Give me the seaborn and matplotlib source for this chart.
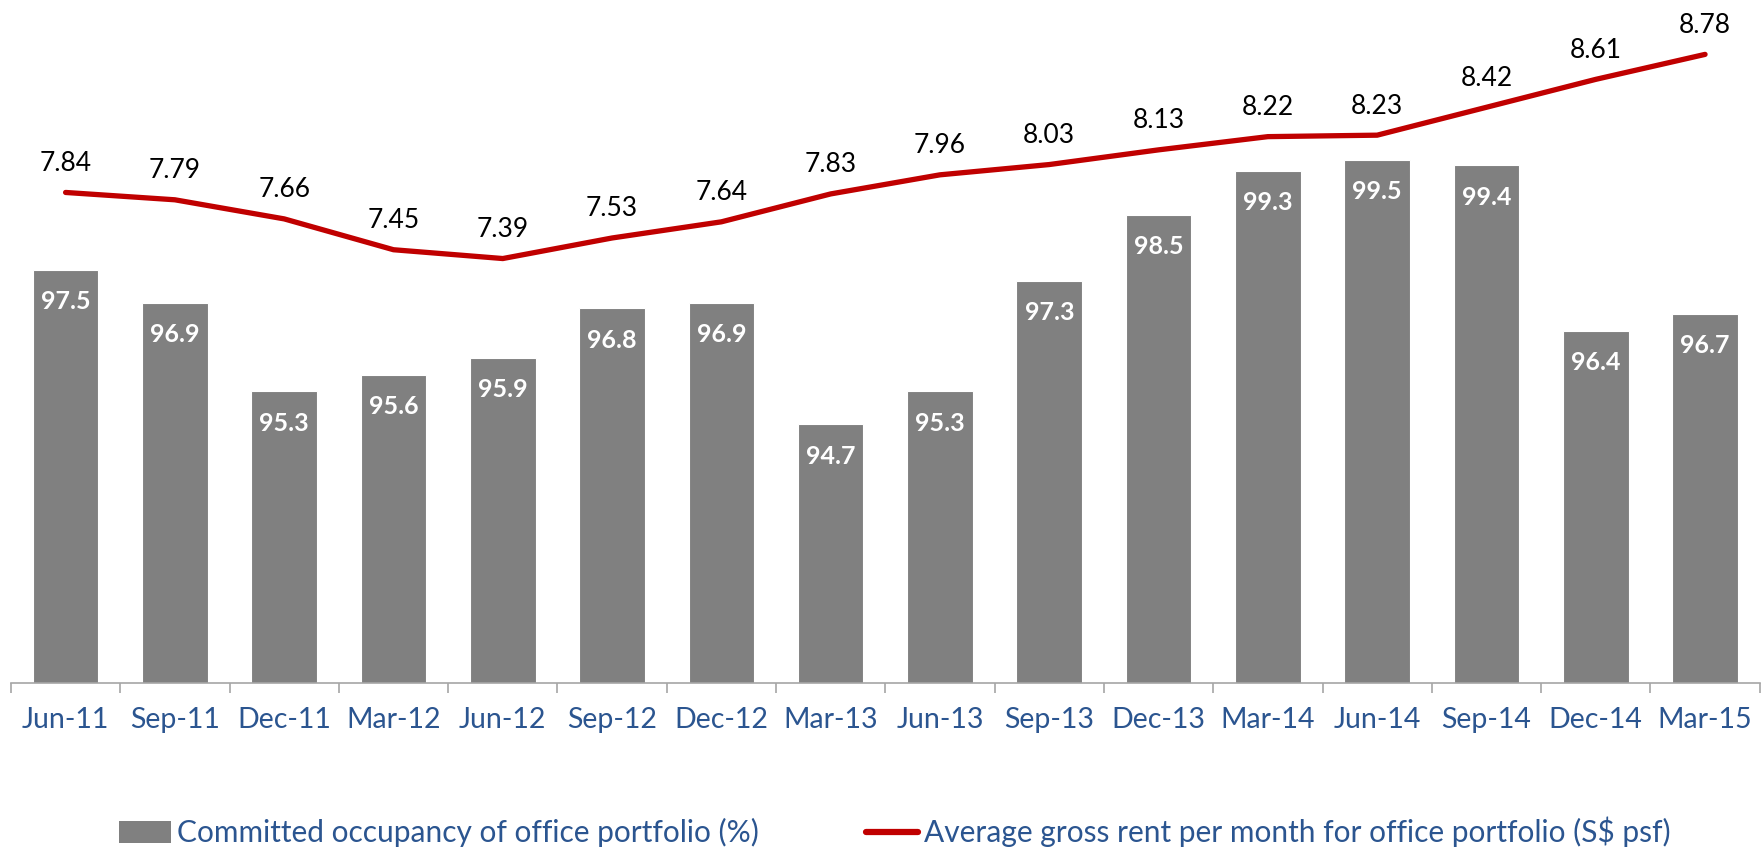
import numpy as np
import pandas as pd
import seaborn as sns
from matplotlib import pyplot as plt
from matplotlib.lines import Line2D
from matplotlib.patches import Patch

quarters = ['Jun-11', 'Sep-11', 'Dec-11', 'Mar-12', 'Jun-12', 'Sep-12', 'Dec-12', 'Mar-13',
            'Jun-13', 'Sep-13', 'Dec-13', 'Mar-14', 'Jun-14', 'Sep-14', 'Dec-14', 'Mar-15']
occupancy = [97.5, 96.9, 95.3, 95.6, 95.9, 96.8, 96.9, 94.7,
             95.3, 97.3, 98.5, 99.3, 99.5, 99.4, 96.4, 96.7]
rent = [7.84, 7.79, 7.66, 7.45, 7.39, 7.53, 7.64, 7.83,
        7.96, 8.03, 8.13, 8.22, 8.23, 8.42, 8.61, 8.78]

occ_label = 'Committed occupancy of office portfolio (%)'
rent_label = 'Average gross rent per month for office portfolio (S$ psf)'

BAR_GREY = '#808080'
LINE_RED = '#C00000'
TEXT_BLUE = '#2B5590'

sns.set_style('white')
plt.rcParams['font.family'] = ['Lato', 'DejaVu Sans']

df = pd.DataFrame({'quarter': quarters, 'occupancy': occupancy, 'rent': rent})
df['pos'] = np.arange(len(df))

fig = plt.figure(figsize=(17.65, 8.49), dpi=100)
ax = fig.add_axes([0.0062, 0.1955, 0.9908, 0.7785])

sns.barplot(data=df, x='quarter', y='occupancy', color=BAR_GREY, saturation=1,
            width=0.6, ax=ax, edgecolor='white', linewidth=0.8)
ax.set_ylim(90, 102)
ax.set_xlim(-0.5, len(df) - 0.5)

for i, v in enumerate(df['occupancy']):
    ax.annotate(f'{v:.1f}', (i, v), xytext=(0, -23), textcoords='offset points',
                ha='center', va='center', color='white', fontsize=18, fontweight='bold')

ax2 = ax.twinx()
sns.lineplot(data=df, x='pos', y='rent', color=LINE_RED, linewidth=3.8, ax=ax2,
             solid_capstyle='round')
ax2.set_ylim(4.5, 9.0)
ax2.set_xlim(-0.5, len(df) - 0.5)

for i, v in enumerate(df['rent']):
    ax2.annotate(f'{v:.2f}', (i, v), xytext=(0, 21), textcoords='offset points',
                 ha='center', va='center', color='black', fontsize=19)

# axes cosmetics
for a in (ax, ax2):
    for s in ['top', 'right', 'left']:
        a.spines[s].set_visible(False)
    a.set_ylabel('')
    a.set_xlabel('')
ax2.spines['bottom'].set_visible(False)
ax2.set_yticks([])
ax.set_yticks([])
ax.spines['bottom'].set_color('#A6A6A6')
ax.spines['bottom'].set_linewidth(1.2)

ax.set_xticks(np.arange(len(df)))
ax.set_xticklabels(quarters, color=TEXT_BLUE, fontsize=20.5)
ax.tick_params(axis='x', which='major', length=0, pad=17)
ax.set_xticks(np.arange(-0.5, len(df)), minor=True)
ax.tick_params(axis='x', which='minor', length=7, width=1.2, color='#A6A6A6', bottom=True)

handles = [Patch(facecolor=BAR_GREY, edgecolor='none'),
           Line2D([0], [0], color=LINE_RED, linewidth=4.5, solid_capstyle='round')]
leg = fig.legend(handles, [occ_label, rent_label], loc='center', bbox_to_anchor=(0.507, 0.02),
                 ncol=2, frameon=False, fontsize=21.5, handlelength=1.75, handleheight=0.75,
                 handletextpad=0.2, columnspacing=3.6)
for t in leg.get_texts():
    t.set_color(TEXT_BLUE)

fig.savefig('out.png', dpi=100)
